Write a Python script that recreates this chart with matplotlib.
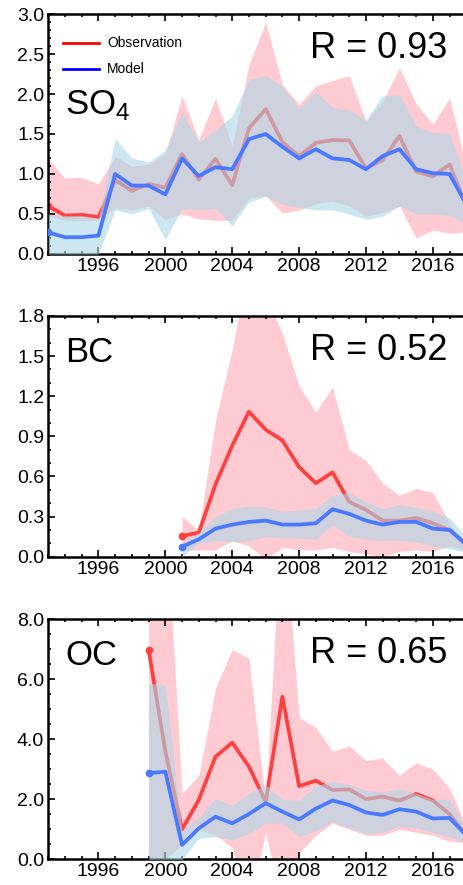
import numpy as np
import matplotlib
matplotlib.use("Agg")
import matplotlib.pyplot as plt
from matplotlib.lines import Line2D
from matplotlib.ticker import MultipleLocator, FormatStrFormatter

plt.rcParams['font.family'] = ['Liberation Sans', 'DejaVu Sans']

# ---------------- SO4 ----------------
so4_years = list(range(1993, 2019))
so4_obs = [0.60, 0.48, 0.49, 0.46, 0.925, 0.79, 0.875, 0.83, 1.25, 0.93, 1.19, 0.86, 1.57, 1.81,
           1.40, 1.225, 1.39, 1.425, 1.42, 1.07, 1.175, 1.475, 1.03, 0.97, 1.12, 0.60]
so4_obs_hi = [1.19, 0.95, 0.96, 0.875, 1.22, 1.10, 1.12, 1.25, 1.98, 1.425, 1.95, 1.35, 2.37, 2.90,
              2.12, 1.87, 2.10, 2.17, 2.23, 1.66, 1.90, 2.33, 1.88, 1.62, 1.95, 1.10]
so4_obs_lo = [0.48, 0.42, 0.42, 0.42, 0.58, 0.55, 0.60, 0.43, 0.50, 0.44, 0.42, 0.42, 0.70, 0.73,
              0.51, 0.55, 0.63, 0.66, 0.60, 0.47, 0.52, 0.60, 0.20, 0.30, 0.26, 0.28]
so4_mod = [0.27, 0.21, 0.21, 0.23, 1.00, 0.855, 0.855, 0.745, 1.195, 0.975, 1.085, 1.06, 1.435, 1.50,
           1.34, 1.195, 1.31, 1.195, 1.175, 1.06, 1.225, 1.31, 1.06, 1.01, 1.00, 0.62]
so4_mod_hi = [0.50, 0.48, 0.48, 0.45, 1.45, 1.20, 1.15, 1.30, 1.77, 1.40, 1.55, 1.73, 2.18, 2.23,
              2.10, 1.82, 2.03, 1.83, 1.80, 1.68, 1.98, 1.99, 1.60, 1.52, 1.51, 0.90]
so4_mod_lo = [0.0, 0.0, 0.0, 0.0, 0.55, 0.50, 0.57, 0.18, 0.57, 0.55, 0.57, 0.35, 0.65, 0.72,
              0.62, 0.58, 0.55, 0.55, 0.50, 0.43, 0.47, 0.60, 0.50, 0.50, 0.48, 0.38]

# ---------------- BC ----------------
bc_years = list(range(2001, 2019))
bc_obs = [0.155, 0.18, 0.54, 0.83, 1.085, 0.95, 0.87, 0.67, 0.55, 0.63, 0.41, 0.35, 0.27, 0.27,
          0.29, 0.25, 0.20, 0.10]
bc_obs_hi = [0.30, 0.20, 1.02, 1.55, 2.20, 1.95, 1.67, 1.28, 1.08, 1.27, 0.80, 0.72, 0.55, 0.46,
             0.51, 0.48, 0.25, 0.05]
bc_obs_lo = [0.05, 0.05, 0.05, 0.12, 0.08, -0.02, 0.07, 0.05, 0.05, 0.07, 0.04, 0.02, 0.0, 0.04,
             0.05, 0.04, 0.08, 0.05]
bc_mod = [0.075, 0.13, 0.21, 0.24, 0.26, 0.27, 0.24, 0.24, 0.25, 0.355, 0.32, 0.27, 0.24, 0.26,
          0.26, 0.21, 0.20, 0.09]
bc_mod_hi = [0.10, 0.18, 0.30, 0.36, 0.38, 0.37, 0.34, 0.35, 0.36, 0.46, 0.48, 0.41, 0.36, 0.39,
             0.37, 0.34, 0.29, 0.15]
bc_mod_lo = [0.0, 0.10, 0.12, 0.11, 0.12, 0.15, 0.14, 0.14, 0.13, 0.24, 0.15, 0.13, 0.12, 0.12,
             0.11, 0.08, 0.06, 0.03]

# ---------------- OC ----------------
oc_years = list(range(1999, 2019))
oc_obs = [6.98, 3.60, 1.00, 1.98, 3.42, 3.89, 3.09, 1.92, 5.42, 2.44, 2.62, 2.31, 2.33, 2.01,
          2.09, 1.96, 2.18, 1.96, 1.51, 0.80]
oc_obs_hi = [10.0, 12.0, 2.20, 2.80, 5.70, 7.00, 6.70, 1.90, 12.0, 4.73, 4.40, 3.60, 3.78, 3.30,
             3.37, 2.80, 3.22, 3.00, 2.37, 1.10]
oc_obs_lo = [0.0, 0.0, 0.50, 1.00, 0.80, 0.40, -1.50, 0.87, -1.50, 0.20, 0.80, 1.20, 1.00, 0.80,
             0.80, 1.00, 0.90, 0.80, 0.60, 0.55]
oc_mod = [2.87, 2.92, 0.48, 1.03, 1.42, 1.20, 1.51, 1.87, 1.59, 1.33, 1.69, 1.96, 1.81, 1.56,
          1.48, 1.67, 1.59, 1.36, 1.38, 0.80]
oc_mod_hi = [5.87, 5.80, 0.95, 1.40, 2.03, 1.80, 2.20, 2.48, 2.00, 1.97, 2.45, 2.60, 2.50, 2.30,
             2.25, 2.35, 2.20, 2.00, 2.00, 1.00]
oc_mod_lo = [0.0, 0.0, 0.0, 0.70, 0.75, 0.65, 0.85, 1.20, 1.20, 0.75, 0.95, 1.25, 1.05, 0.85,
             0.90, 1.10, 1.05, 0.90, 0.75, 0.55]

legend_labels = ['Observation', 'Model']

panels = [
    dict(name="SO$_\\mathregular{4}$", r="R = 0.93", years=so4_years, obs=so4_obs, obs_hi=so4_obs_hi,
         obs_lo=so4_obs_lo, mod=so4_mod, mod_hi=so4_mod_hi, mod_lo=so4_mod_lo,
         ylim=(0, 3.0), major=0.5, minor=0.1, legend=True, name_y=0.62),
    dict(name="BC", r="R = 0.52", years=bc_years, obs=bc_obs, obs_hi=bc_obs_hi,
         obs_lo=bc_obs_lo, mod=bc_mod, mod_hi=bc_mod_hi, mod_lo=bc_mod_lo,
         ylim=(0, 1.8), major=0.3, minor=0.1, legend=False, name_y=0.85),
    dict(name="OC", r="R = 0.65", years=oc_years, obs=oc_obs, obs_hi=oc_obs_hi,
         obs_lo=oc_obs_lo, mod=oc_mod, mod_hi=oc_mod_hi, mod_lo=oc_mod_lo,
         ylim=(0, 8.0), major=2.0, minor=0.5, legend=False, name_y=0.85),
]

W, H = 464, 885
fig = plt.figure(figsize=(W / 100, H / 100), dpi=100)

axes_px = [(14, 254), (316, 556.7), (619.3, 859.3)]
left_px, right_px = 48.3, 466.3

obs_color = '#ff4040'
mod_color = '#4a78ff'

for p, (top, bot) in zip(panels, axes_px):
    ax = fig.add_axes([left_px / W, 1 - bot / H, (right_px - left_px) / W, (bot - top) / H])
    ax.fill_between(p['years'], p['obs_lo'], p['obs_hi'], color='#ffb6c1', alpha=0.7, lw=0, zorder=1)
    ax.plot(p['years'], p['obs'], color=obs_color, lw=2.7, zorder=2,
            marker='o', markevery=[0], markersize=4.5, solid_capstyle='round')
    ax.fill_between(p['years'], p['mod_lo'], p['mod_hi'], color='#add8e6', alpha=0.6, lw=0, zorder=3)
    ax.plot(p['years'], p['mod'], color=mod_color, lw=2.7, zorder=4,
            marker='o', markevery=[0], markersize=4.5, solid_capstyle='round')

    ax.set_xlim(1993, 2018)
    ax.set_ylim(*p['ylim'])
    ax.xaxis.set_minor_locator(MultipleLocator(1))
    ax.set_xticks([1996, 2000, 2004, 2008, 2012, 2016])
    ax.yaxis.set_major_locator(MultipleLocator(p['major']))
    ax.yaxis.set_minor_locator(MultipleLocator(p['minor']))
    ax.yaxis.set_major_formatter(FormatStrFormatter('%.1f'))
    ax.tick_params(which='both', direction='in', top=True, right=False, labelsize=14, width=1.2)
    ax.tick_params(which='major', length=5, pad=3)
    ax.tick_params(which='minor', length=2.5)
    for s in ax.spines.values():
        s.set_linewidth(1.8)

    ax.text(0.04, p['name_y'], p['name'], transform=ax.transAxes,
            fontsize=25, va='center', ha='left', zorder=10)
    ax.text(0.625, 0.858, p['r'], transform=ax.transAxes, fontsize=26,
            va='center', ha='left', zorder=10)

    if p['legend']:
        # legend drawn in axes coordinates
        x0, x1, xt = (63 - left_px) / 418, (99 - left_px) / 418, (107 - left_px) / 418
        for lab, col, ypx in zip(legend_labels, ['red', 'blue'], [43, 69]):
            yf = 1 - (ypx - top) / (bot - top)
            ax.add_line(Line2D([x0, x1], [yf, yf], color=col, lw=2, transform=ax.transAxes, zorder=10))
            ax.text(xt, yf, lab, transform=ax.transAxes, fontsize=10, va='center', ha='left', zorder=10)

fig.savefig('out.png', dpi=100)
